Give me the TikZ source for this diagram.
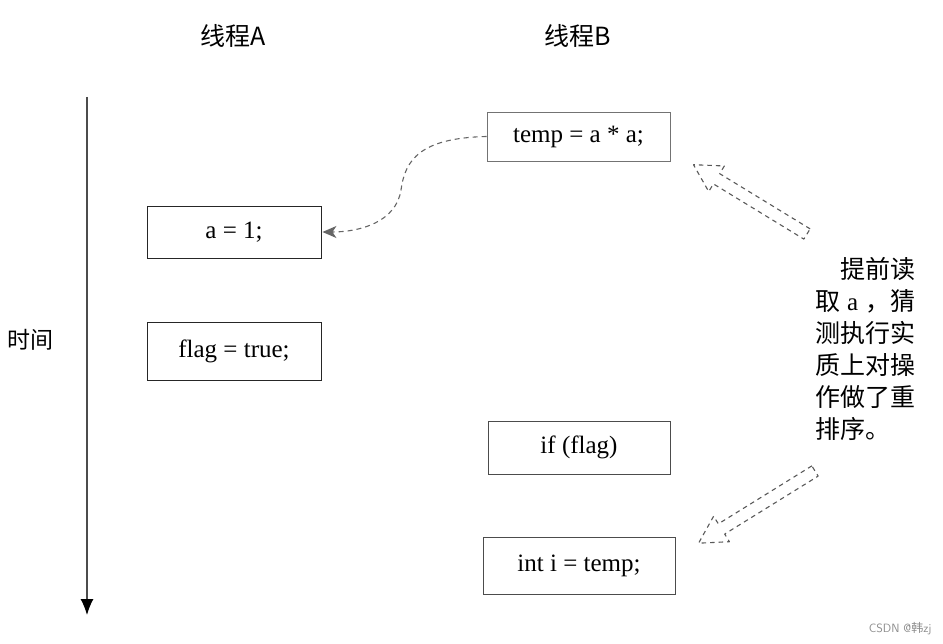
\documentclass[tikz,border=0pt]{standalone}
\usepackage{fontspec}
\setmainfont{Liberation Serif}
\newfontfamily\cjk{Noto Sans CJK SC}
\usetikzlibrary{arrows.meta}
\begin{document}
\begin{tikzpicture}[x=1pt,y=-1pt,
  box/.style={draw=#1, line width=0.9pt, inner sep=0pt, font=\fontsize{25}{29}\selectfont},
  head/.style={font=\cjk\fontsize{25}{29}\selectfont},
  hollow/.style={draw=black!65, line width=1.1pt, dash pattern=on 4.5pt off 4pt, line join=round},
  curvearrow/.style={draw=black!60, line width=1.1pt, dash pattern=on 5pt off 4pt, -{Stealth[length=14pt,width=12pt,inset=4pt]}},
  note/.style={font=\cjk\fontsize{25}{32}\selectfont, align=left, anchor=north west, inner sep=0pt}]
\useasboundingbox (0,0) rectangle (943,644);

% headers
\node[head] (hA) at (233,36) {线程A};
\node[head] (hB) at (578,36) {线程B};
\node[head, font=\cjk\fontsize{23}{27}\selectfont] (time) at (30,340) {时间};

% time axis
\coordinate (t0) at (87,97);
\coordinate (t1) at (87,615);
\draw[black!70, line width=1.2pt, -{Latex[length=16pt,width=13pt,fill=black,color=black]}] (t0) -- (t1);

% thread A boxes
\node[box=black!85, minimum width=174pt, minimum height=52pt] (a1) at (234,232) {\raisebox{-3pt}{a = 1;}};
\node[box=black!85, minimum width=174pt, minimum height=58pt] (flag) at (234,351) {\raisebox{-3pt}{flag = true;}};

% thread B boxes
\node[box=black!55, minimum width=183pt, minimum height=49pt] (temp) at (578.5,136.5) {\raisebox{-3pt}{temp = a * a;}};
\node[box=black!70, minimum width=182pt, minimum height=53pt] (iff) at (579,447.5) {\raisebox{-3pt}{if (flag)}};
\node[box=black!70, minimum width=192pt, minimum height=57pt] (inti) at (579,565.5) {\raisebox{-3pt}{int i = temp;}};

% dashed curve
\draw[curvearrow] (temp.west) .. controls (420,138) and (405,160) .. (401,190)
  .. controls (396,222) and (360,232) .. ([xshift=1pt]a1.east);

% hollow dashed arrows
\begin{scope}[shift={(807,234)}, rotate=148.6]
  \draw[hollow] (0,6) -- (106,6) -- (106,15) -- (133,0) -- (106,-15) -- (106,-6) -- (0,-6) -- cycle;
\end{scope}
\begin{scope}[shift={(815,471)}, rotate=211.8]
  \draw[hollow] (0,6) -- (110,6) -- (110,15) -- (137,0) -- (110,-15) -- (110,-6) -- (0,-6) -- cycle;
\end{scope}

% note text
\node[note] (txt) at (815,257) {\hspace*{25pt}提前读\\
取\makebox[25pt]{\rmfamily a}，猜\\
测执行实\\
质上对操\\
作做了重\\
排序。};

% watermark
\node[font=\sffamily\fontsize{12}{14}\selectfont, text=black!45, anchor=east] (wm) at (935,629) {CSDN @{\cjk 韩}zj};
\end{tikzpicture}
\end{document}
